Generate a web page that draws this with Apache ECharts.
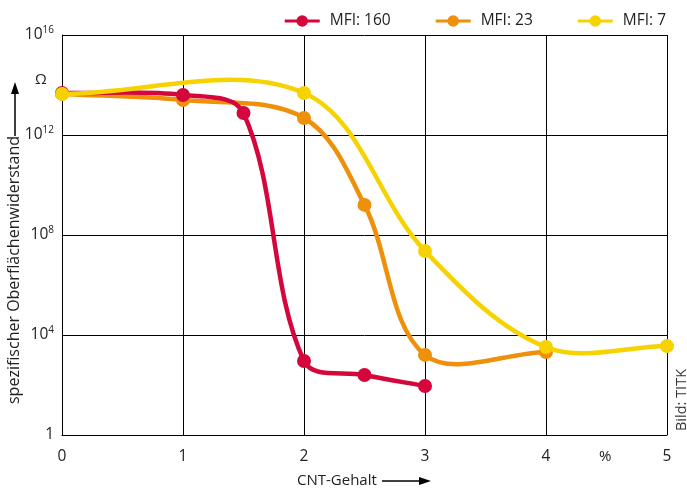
<!DOCTYPE html>
<html><head><meta charset="utf-8">
<script src="https://cdn.jsdelivr.net/npm/echarts@6/dist/echarts.min.js"></script>
<style>html,body{margin:0;padding:0;background:#fff}#c{width:687px;height:495px}</style>
</head><body><div id="c"></div>
<script>
const xTicks = [0, 1, 2, 3, 4, 5];
const yTicks = [1, 1e4, 1e8, 1e12, 1e16];
const seriesNames = ['MFI: 160', 'MFI: 23', 'MFI: 7'];
const mfi160X = [0, 1, 1.5, 2, 2.5, 3];
const mfi160Y = [4.8e13, 4.0e13, 7.6e12, 910, 250, 91];
const mfi23X = [0, 1, 2, 2.5, 3, 4];
const mfi23Y = [4.4e13, 2.5e13, 4.8e12, 1.6e9, 1.6e3, 2.1e3];
const mfi7X = [0, 2, 3, 4, 5];
const mfi7Y = [4.4e13, 4.8e13, 2.3e7, 3.3e3, 3.6e3];

const colors = ['#d4063c', '#ee900a', '#f6d300'];
const FONT = 'Open Sans';

function pairs(xs, ys) { return xs.map((x, i) => [x, ys[i]]); }

const chart = echarts.init(document.getElementById('c'), null, {renderer: 'canvas'});

// smooth curve through the data points (pixel positions from the axes)
function curve(name, data, color, z) {
  const S = 0.35;
  function ctrl(api, i) {
    const p = api.coord(data[i]);
    const pr = i > 0 ? api.coord(data[i - 1]) : p;
    const nx = i < data.length - 1 ? api.coord(data[i + 1]) : p;
    const vx = nx[0] - pr[0], vy = nx[1] - pr[1];
    const lp = Math.hypot(p[0] - pr[0], p[1] - pr[1]);
    const ln = Math.hypot(nx[0] - p[0], nx[1] - p[1]);
    const sum = lp + ln || 1;
    return {
      p,
      cin: [p[0] - vx * S * lp / sum, p[1] - vy * S * lp / sum],
      cout: [p[0] + vx * S * ln / sum, p[1] + vy * S * ln / sum]
    };
  }
  return {
    name, type: 'custom', z, data, silent: true,
    itemStyle: {color},
    renderItem: function (params, api) {
      const i = params.dataIndex;
      if (i >= data.length - 1) return null;
      const a = ctrl(api, i), b = ctrl(api, i + 1);
      return {
        type: 'bezierCurve',
        shape: {x1: a.p[0], y1: a.p[1], x2: b.p[0], y2: b.p[1],
          cpx1: a.cout[0], cpy1: a.cout[1], cpx2: b.cin[0], cpy2: b.cin[1]},
        style: {stroke: color, lineWidth: 4.5, fill: null, lineCap: 'round'}
      };
    }
  };
}
function dots(name, data, color, z) {
  return {
    name, type: 'scatter', z, data, symbol: 'circle', symbolSize: 14,
    itemStyle: {color, opacity: 1}, emphasis: {disabled: true}
  };
}
const legendIcon = 'path://M0,5.5h36v3h-36z M24,7a6,6 0 1,1 -12,0a6,6 0 1,1 12,0z';

chart.setOption({
  animation: false,
  textStyle: {fontFamily: FONT},
  legend: {
    data: seriesNames.map(n => ({name: n, icon: legendIcon})),
    top: 8, right: 16, itemWidth: 35, itemHeight: 12, itemGap: 45,
    textStyle: {fontFamily: FONT, fontSize: 15.5, color: '#222', padding: [0, 0, 0, 5]}
  },
  grid: {left: 62, right: 20, top: 35, bottom: 60},
  xAxis: {
    type: 'value', min: 0, max: 5, interval: 1,
    axisLine: {lineStyle: {color: '#000', width: 1}},
    axisTick: {show: false},
    splitLine: {show: true, lineStyle: {color: '#000', width: 1}},
    axisLabel: {fontFamily: FONT, fontSize: 15.5, color: '#222', margin: 14,
      formatter: v => xTicks.includes(v) ? String(v) : ''}
  },
  yAxis: {
    type: 'log', logBase: 10000, min: yTicks[0], max: yTicks[yTicks.length - 1],
    axisLine: {show: true, lineStyle: {color: '#000', width: 1}},
    axisTick: {show: false},
    splitLine: {show: true, lineStyle: {color: '#000', width: 1}},
    axisLabel: {
      margin: 8, color: '#222',
      formatter: v => {
        const e = Math.round(Math.log10(v));
        return e === 0 ? '{b|1}' : '{b|10}{s|' + e + '}';
      },
      rich: {
        b: {fontFamily: FONT, fontSize: 15.5, color: '#222', lineHeight: 20},
        s: {fontFamily: FONT, fontSize: 10, color: '#222', lineHeight: 20, verticalAlign: 'top'}
      }
    }
  },
  series: [
    curve(seriesNames[1], pairs(mfi23X, mfi23Y), colors[1], 2),
    dots(seriesNames[1], pairs(mfi23X, mfi23Y), colors[1], 3),
    curve(seriesNames[0], pairs(mfi160X, mfi160Y), colors[0], 4),
    dots(seriesNames[0], pairs(mfi160X, mfi160Y), colors[0], 5),
    curve(seriesNames[2], pairs(mfi7X, mfi7Y), colors[2], 6),
    dots(seriesNames[2], pairs(mfi7X, mfi7Y), colors[2], 7)
  ],
  graphic: [
    {type: 'text', x: 35, y: 80, style: {text: 'Ω', font: '15px "Open Sans"', fill: '#222', textVerticalAlign: 'middle'}},
    {type: 'text', x: 6, y: 404, rotation: Math.PI / 2,
      style: {text: 'spezifischer Oberflächenwiderstand', font: '16px "Open Sans"', fill: '#222', textVerticalAlign: 'top'}},
    {type: 'line', shape: {x1: 15, y1: 136, x2: 15, y2: 92}, style: {stroke: '#000', lineWidth: 1.5}},
    {type: 'polygon', shape: {points: [[15, 82], [11, 94], [19, 94]]}, style: {fill: '#000'}},
    {type: 'text', x: 297, y: 481, style: {text: 'CNT-Gehalt', font: '15px "Open Sans"', fill: '#222', textVerticalAlign: 'middle'}},
    {type: 'line', shape: {x1: 382, y1: 481, x2: 420, y2: 481}, style: {stroke: '#000', lineWidth: 1.5}},
    {type: 'polygon', shape: {points: [[431, 481], [419, 477], [419, 485]]}, style: {fill: '#000'}},
    {type: 'text', x: 599, y: 457, style: {text: '%', font: '15px "Open Sans"', fill: '#222', textVerticalAlign: 'middle'}},
    {type: 'text', x: 674, y: 431, rotation: Math.PI / 2,
      style: {text: 'Bild: TITK', font: '14.5px "Open Sans"', fill: '#333', textVerticalAlign: 'top'}}
  ]
});
</script></body></html>
